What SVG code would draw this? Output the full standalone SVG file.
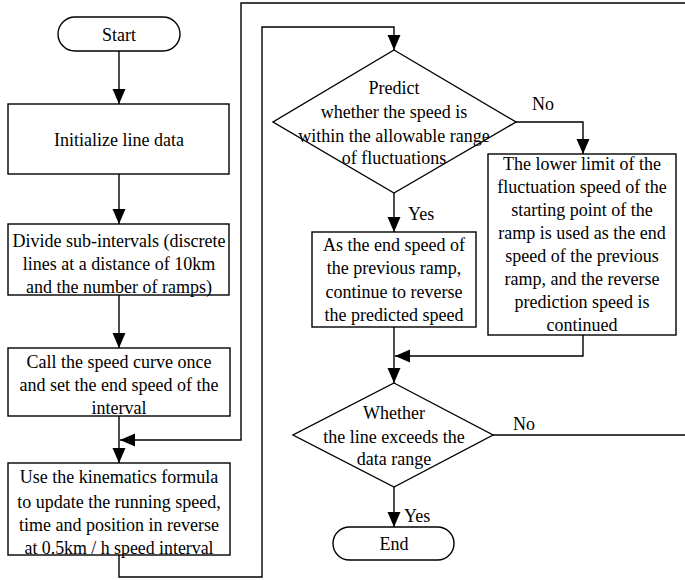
<svg xmlns="http://www.w3.org/2000/svg" width="685" height="580" viewBox="0 0 685 580">
<style>
.s{fill:#fff;stroke:#000;stroke-width:1.4}
.c{fill:none;stroke:#000;stroke-width:1.4}
text{font-size:18px;fill:#000;text-anchor:middle}
.l{text-anchor:start}
</style>
<defs>
<marker id="a" markerUnits="userSpaceOnUse" markerWidth="16" markerHeight="14" refX="15" refY="7" orient="auto">
<path d="M0,0.5 L15,7 L0,13.5 Z" fill="#000"/>
</marker>
</defs>
<rect width="685" height="580" fill="#fff"/>
<g font-family="'Liberation Serif', 'Times New Roman', serif">
<g id="connectors">
<line class="c" x1="119" y1="51" x2="119" y2="104" marker-end="url(#a)"/>
<line class="c" x1="119" y1="174" x2="119" y2="224" marker-end="url(#a)"/>
<line class="c" x1="119" y1="295" x2="119" y2="348" marker-end="url(#a)"/>
<line class="c" x1="119" y1="416" x2="119" y2="463" marker-end="url(#a)"/>
<polyline class="c" points="685,3 241,3 241,440 120,440" marker-end="url(#a)"/>
<polyline class="c" points="119,555 119,577 262,577 262,27 394,27 394,50" marker-end="url(#a)"/>
<polyline class="c" points="516,122 583,122 583,154" marker-end="url(#a)"/>
<line class="c" x1="394" y1="193" x2="394" y2="232" marker-end="url(#a)"/>
<line class="c" x1="394" y1="327" x2="394" y2="383" marker-end="url(#a)"/>
<polyline class="c" points="583,335 583,356 395,356" marker-end="url(#a)"/>
<line class="c" x1="493" y1="435" x2="685" y2="435"/>
<line class="c" x1="394" y1="487" x2="394" y2="527" marker-end="url(#a)"/>
<text class="l" x="532" y="110">No</text>
<text class="l" x="408" y="220">Yes</text>
<text class="l" x="513" y="430">No</text>
<text class="l" x="404" y="522">Yes</text>
</g>
<g id="start">
<rect class="s" x="58" y="17" width="122" height="34" rx="17"/>
<text x="119" y="40.5">Start</text>
</g>
<g id="init">
<rect class="s" x="8" y="104" width="221" height="70"/>
<text x="119" y="146">Initialize line data</text>
</g>
<g id="divide">
<rect class="s" x="8" y="224" width="221" height="71"/>
<text x="119" y="247">Divide sub-intervals (discrete</text>
<text x="119" y="270">lines at a distance of 10km</text>
<text x="119" y="293">and the number of ramps)</text>
</g>
<g id="call">
<rect class="s" x="8" y="348" width="222" height="68"/>
<text x="119" y="368">Call the speed curve once</text>
<text x="119" y="391">and set the end speed of the</text>
<text x="119" y="413.5">interval</text>
</g>
<g id="update">
<rect class="s" x="8" y="463" width="222" height="92"/>
<text x="119" y="483">Use the kinematics formula</text>
<text x="119" y="507.5">to update the running speed,</text>
<text x="119" y="531">time and position in reverse</text>
<text x="119" y="553.5" textLength="189" lengthAdjust="spacingAndGlyphs">at 0.5km / h speed interval</text>
</g>
<g id="predict">
<polygon class="s" points="394,50 516,122 394,193 273,122"/>
<text x="394" y="94">Predict</text>
<text x="394" y="117.5">whether the speed is</text>
<text x="394" y="141.5">within the allowable range</text>
<text x="394" y="163.5">of fluctuations</text>
</g>
<g id="yesbox">
<rect class="s" x="312" y="232" width="164" height="95"/>
<text x="394" y="251">As the end speed of</text>
<text x="394" y="274">the previous ramp,</text>
<text x="394" y="297.5">continue to reverse</text>
<text x="394" y="321">the predicted speed</text>
</g>
<g id="nobox">
<rect class="s" x="488" y="154" width="188" height="181"/>
<text x="582" y="170">The lower limit of the</text>
<text x="582" y="193">fluctuation speed of the</text>
<text x="582" y="216">starting point of the</text>
<text x="582" y="239">ramp is used as the end</text>
<text x="582" y="262">speed of the previous</text>
<text x="582" y="285">ramp, and the reverse</text>
<text x="582" y="308">prediction speed is</text>
<text x="582" y="330.5">continued</text>
</g>
<g id="exceeds">
<polygon class="s" points="394,383 493,435 394,487 293,435"/>
<text x="394" y="419">Whether</text>
<text x="394" y="443">the line exceeds the</text>
<text x="394" y="464.5">data range</text>
</g>
<g id="end">
<rect class="s" x="333" y="527" width="121" height="33" rx="16.5"/>
<text x="394" y="550">End</text>
</g>
</g>
</svg>
